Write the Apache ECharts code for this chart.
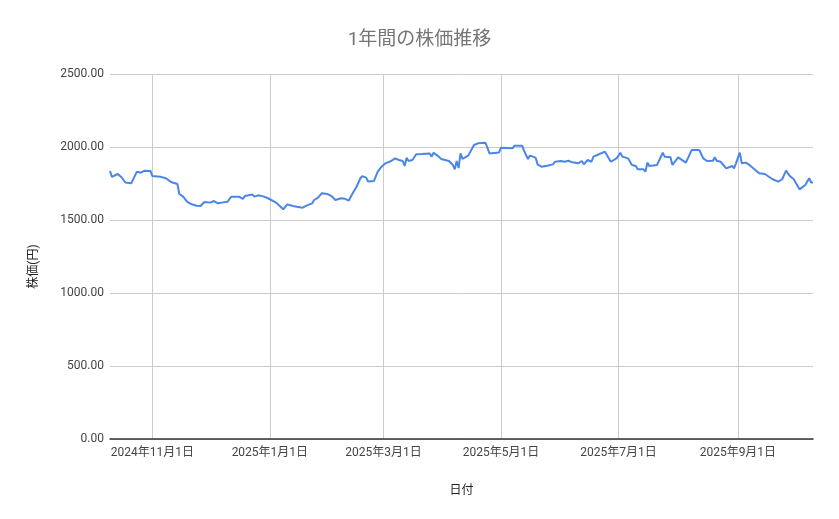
<!DOCTYPE html>
<html>
<head>
<meta charset="utf-8">
<script src="https://cdn.jsdelivr.net/npm/echarts@6/dist/echarts.min.js"></script>
<style>
  html, body { margin: 0; padding: 0; background: #fff; }
  #chart { width: 839px; height: 519px; }
</style>
</head>
<body>
<div id="chart"></div>
<script>
// 日付
const dates = [
  '2024-10-10','2024-10-11','2024-10-14','2024-10-16','2024-10-18','2024-10-21','2024-10-22','2024-10-24',
  '2024-10-26','2024-10-28','2024-10-31','2024-11-01','2024-11-05','2024-11-06','2024-11-08','2024-11-11',
  '2024-11-14','2024-11-15','2024-11-17','2024-11-19','2024-11-21','2024-11-24','2024-11-26','2024-11-27',
  '2024-11-28','2024-12-01','2024-12-02','2024-12-03','2024-12-05','2024-12-07','2024-12-10','2024-12-12',
  '2024-12-16','2024-12-18','2024-12-19','2024-12-23','2024-12-24','2024-12-26','2024-12-29','2024-12-31',
  '2025-01-04','2025-01-06','2025-01-08','2025-01-10','2025-01-13','2025-01-15','2025-01-16','2025-01-18',
  '2025-01-20','2025-01-23','2025-01-24','2025-01-26','2025-01-28','2025-01-29','2025-01-31','2025-02-02',
  '2025-02-04','2025-02-07','2025-02-09','2025-02-11','2025-02-13','2025-02-15','2025-02-17','2025-02-18',
  '2025-02-20','2025-02-21','2025-02-24','2025-02-25','2025-02-26','2025-02-28','2025-03-02','2025-03-03',
  '2025-03-05','2025-03-07','2025-03-09','2025-03-11','2025-03-12','2025-03-13','2025-03-14','2025-03-16',
  '2025-03-17','2025-03-18','2025-03-21','2025-03-25','2025-03-26','2025-03-27','2025-03-29','2025-03-31',
  '2025-04-02','2025-04-03','2025-04-04','2025-04-06','2025-04-07','2025-04-08','2025-04-09','2025-04-10',
  '2025-04-11','2025-04-14','2025-04-17','2025-04-19','2025-04-23','2025-04-25','2025-04-26','2025-04-30',
  '2025-05-01','2025-05-07','2025-05-08','2025-05-12','2025-05-13','2025-05-15','2025-05-16','2025-05-17',
  '2025-05-19','2025-05-20','2025-05-22','2025-05-25','2025-05-28','2025-05-29','2025-06-01','2025-06-03',
  '2025-06-05','2025-06-07','2025-06-10','2025-06-12','2025-06-13','2025-06-15','2025-06-17','2025-06-18',
  '2025-06-20','2025-06-24','2025-06-27','2025-06-30','2025-07-02','2025-07-03','2025-07-06','2025-07-08',
  '2025-07-10','2025-07-11','2025-07-14','2025-07-15','2025-07-16','2025-07-17','2025-07-21','2025-07-24',
  '2025-07-25','2025-07-28','2025-07-29','2025-08-01','2025-08-05','2025-08-06','2025-08-08','2025-08-12',
  '2025-08-14','2025-08-16','2025-08-19','2025-08-20','2025-08-21','2025-08-23','2025-08-26','2025-08-27',
  '2025-08-29','2025-08-30','2025-08-31','2025-09-02','2025-09-03','2025-09-05','2025-09-07','2025-09-09',
  '2025-09-12','2025-09-15','2025-09-19','2025-09-22','2025-09-24','2025-09-26','2025-09-28','2025-09-30',
  '2025-10-01','2025-10-03','2025-10-06','2025-10-08','2025-10-09','2025-10-10'
];

// 株価(円)
const prices = [
  1836,1795,1815,1793,1757,1751,1745,1831,
  1824,1838,1836,1801,1797,1806,1786,1758,
  1747,1678,1660,1626,1610,1598,1596,1584,
  1623,1619,1612,1630,1614,1619,1625,1660,
  1660,1644,1664,1674,1660,1669,1660,1649,
  1621,1598,1573,1607,1596,1591,1580,1584,
  1598,1614,1637,1653,1683,1695,1678,1664,
  1637,1649,1645,1633,1683,1728,1786,1801,
  1790,1763,1767,1774,1831,1865,1888,1895,
  1904,1922,1911,1904,1870,1927,1904,1911,
  1922,1950,1952,1956,1934,1961,1941,1918,
  1911,1918,1904,1877,1847,1904,1856,1956,
  1918,1941,2014,2025,2029,1956,1945,1963,
  1995,1991,2009,2009,1973,1918,1941,1934,
  1927,1881,1865,1872,1881,1899,1904,1899,
  1906,1895,1888,1904,1881,1911,1899,1934,
  1945,1968,1899,1922,1961,1934,1922,1877,
  1870,1847,1847,1831,1893,1870,1877,1961,
  1934,1929,1877,1929,1893,1899,1979,1979,
  1922,1904,1906,1929,1906,1899,1854,1854,
  1870,1854,1888,1961,1888,1893,1877,1854,
  1820,1815,1779,1763,1779,1838,1801,1779,
  1774,1710,1740,1786,1757,1757
];

const axisStart = '2024-10-10';
const axisEnd = '2025-10-10';

function ts(s) {
  const p = s.split('-').map(Number);
  return new Date(p[0], p[1] - 1, p[2]).getTime();
}

const font = 'Roboto, "Noto Sans CJK JP", sans-serif';

const chart = echarts.init(document.getElementById('chart'));
chart.setOption({
  animation: false,
  textStyle: { fontFamily: font },
  title: {
    text: '1年間の株価推移',
    left: 'center',
    top: 26,
    textStyle: { fontFamily: font, fontSize: 19, fontWeight: 'normal', color: '#757575' }
  },
  grid: { left: 110, right: 26, top: 74, bottom: 80 },
  xAxis: {
    type: 'time',
    min: ts(axisStart),
    max: ts(axisEnd),
    splitNumber: 5,
    name: '日付',
    nameLocation: 'middle',
    nameGap: 46,
    nameTextStyle: { fontFamily: font, fontSize: 12, color: '#222' },
    axisLine: { lineStyle: { color: '#333', width: 1.5 } },
    axisTick: { show: false },
    axisLabel: {
      fontFamily: font,
      fontSize: 12,
      color: '#444',
      margin: 8,
      showMinLabel: false,
      showMaxLabel: false,
      formatter: function (v) {
        const d = new Date(v);
        return d.getFullYear() + '年' + (d.getMonth() + 1) + '月' + d.getDate() + '日';
      }
    },
    splitLine: {
      show: true,
      showMinLine: false,
      showMaxLine: false,
      lineStyle: { color: '#cccccc', width: 1 }
    }
  },
  yAxis: {
    type: 'value',
    min: 0,
    max: 2500,
    interval: 500,
    name: '株価(円)',
    nameLocation: 'middle',
    nameGap: 70,
    nameTextStyle: { fontFamily: font, fontSize: 12, color: '#222', padding: [0, 20, 0, 0] },
    axisLine: { show: false },
    axisTick: { show: false },
    axisLabel: {
      fontFamily: font,
      fontSize: 12,
      color: '#444',
      margin: 6,
      formatter: function (v) { return v.toFixed(2); }
    },
    splitLine: { lineStyle: { color: '#cccccc', width: 1 } }
  },
  series: [{
    type: 'line',
    data: dates.map(function (d, i) { return [d, prices[i]]; }),
    showSymbol: false,
    lineStyle: { color: '#4a86e8', width: 2 },
    itemStyle: { color: '#4a86e8' }
  }]
});
</script>
</body>
</html>
